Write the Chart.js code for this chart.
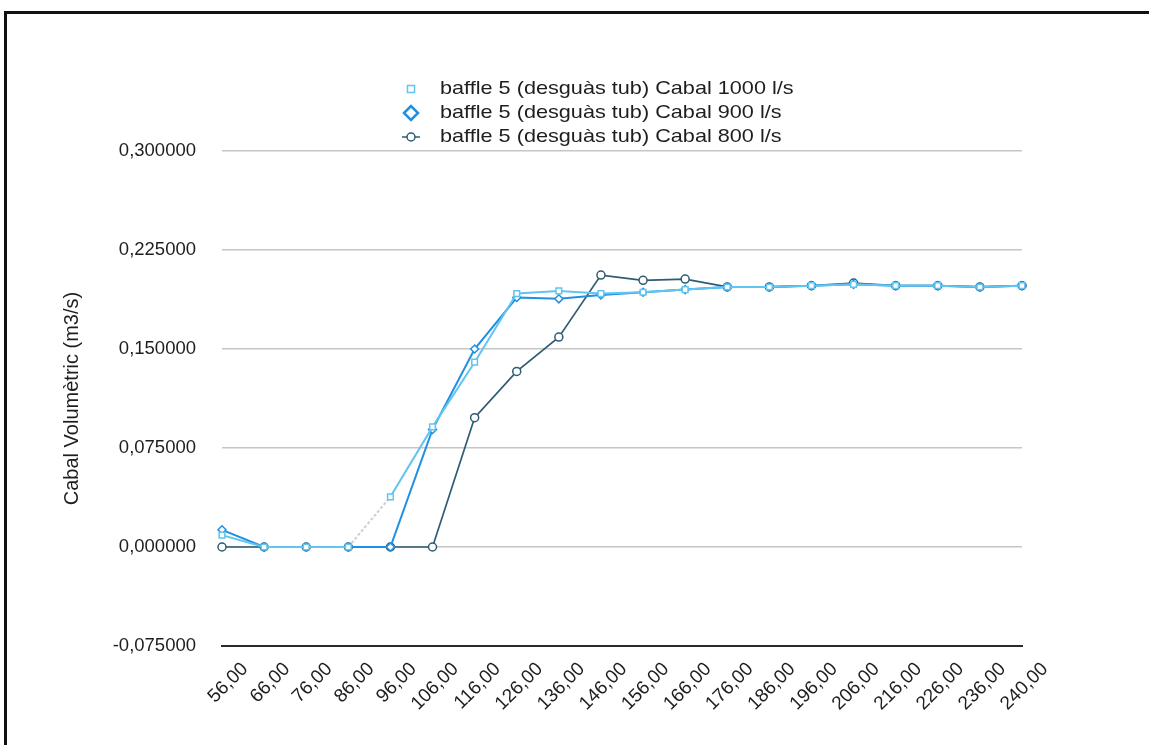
<!DOCTYPE html>
<html>
<head>
<meta charset="utf-8">
<script src="https://cdn.jsdelivr.net/npm/chart.js@4.4.1/dist/chart.umd.min.js"></script>
<style>
  html, body { margin: 0; padding: 0; background: #fff; overflow: hidden; }
  #wrap { position: relative; width: 1149px; height: 745px; }
  #frame { position: absolute; left: 4px; top: 11px; width: 1200px; height: 800px;
           border-left: 3px solid #111; border-top: 3px solid #111; }
  #c { position: absolute; left: 0; top: 0; }
</style>
</head>
<body>
<div id="wrap">
  <div id="frame"></div>
  <canvas id="c" width="1149" height="745"></canvas>
</div>
<script>
// Time stamps (s) along the horizontal axis
const categories = ['56,00', '66,00', '76,00', '86,00', '96,00', '106,00', '116,00', '126,00',
  '136,00', '146,00', '156,00', '166,00', '176,00', '186,00', '196,00', '206,00',
  '216,00', '226,00', '236,00', '240,00'];

// Volumetric flow through baffle 5 (m3/s)
const cabal1000 = [0.009, 0, 0, 0, 0.038, 0.091, 0.140, 0.192, 0.194, 0.192,
  0.193, 0.195, 0.197, 0.197, 0.198, 0.199, 0.198, 0.198, 0.197, 0.198];
const cabal900 = [0.013, 0, 0, 0, 0, 0.089, 0.150, 0.189, 0.188, 0.191,
  0.193, 0.195, 0.197, 0.197, 0.198, 0.199, 0.198, 0.198, 0.197, 0.198];
const cabal800 = [0, 0, 0, 0, 0, 0, 0.098, 0.133, 0.159, 0.206,
  0.202, 0.203, 0.197, 0.197, 0.198, 0.200, 0.198, 0.198, 0.197, 0.198];

const seriesNames = ['baffle 5 (desguàs tub) Cabal 1000 l/s',
  'baffle 5 (desguàs tub) Cabal 900 l/s',
  'baffle 5 (desguàs tub) Cabal 800 l/s'];

const yTicks = [-0.075, 0, 0.075, 0.15, 0.225, 0.3];

const FONT = "'Liberation Sans', Arial, Helvetica, sans-serif";
const TEXT = '#1e1e1e';

function fmtComma(v) {
  if (Math.abs(v) < 1e-9) v = 0;
  return v.toFixed(6).replace('.', ',');
}

// Legend stacked in three rows above the plot
const legendRows = {
  id: 'legendRows',
  afterDraw(chart) {
    const ctx = chart.ctx;
    const iconX = 411, textX = 440, y0 = 89, step = 24;
    chart.data.datasets.forEach((ds, i) => {
      const y = y0 + i * step;
      ctx.save();
      ctx.strokeStyle = ds.borderColor;
      ctx.fillStyle = '#ffffff';
      if (ds.legendLine) {
        ctx.lineWidth = 1.5;
        ctx.beginPath();
        ctx.moveTo(iconX - 9, y);
        ctx.lineTo(iconX + 9, y);
        ctx.stroke();
      }
      ctx.lineWidth = ds.legendBorder;
      Chart.helpers.drawPoint(ctx, {
        pointStyle: ds.pointStyle, radius: ds.legendRadius, rotation: 0,
        borderWidth: ds.legendBorder
      }, iconX, y);
      ctx.fillStyle = TEXT;
      ctx.font = '19px ' + FONT;
      ctx.textBaseline = 'middle';
      ctx.textAlign = 'left';
      ctx.translate(textX, y);
      ctx.scale(1.14, 1);
      ctx.fillText(ds.label, 0, 0);
      ctx.restore();
    });
  }
};

const pointCommon = { pointBackgroundColor: '#ffffff', pointRadius: 4, pointBorderWidth: 1.5,
  borderWidth: 2, tension: 0, fill: false };

new Chart(document.getElementById('c'), {
  type: 'line',
  data: {
    labels: categories,
    datasets: [
      Object.assign({
        label: seriesNames[0], data: cabal1000,
        borderColor: '#62c4f0', pointBorderColor: '#62c4f0', pointStyle: 'rect',
        legendRadius: 5, legendBorder: 1.5,
        segment: {
          borderColor: c => c.p0DataIndex === 3 ? '#cfcfcf' : undefined,
          borderDash: c => c.p0DataIndex === 3 ? [3, 2] : undefined
        }
      }, pointCommon),
      Object.assign({
        label: seriesNames[1], data: cabal900,
        borderColor: '#1f90e2', pointBorderColor: '#1f90e2', pointStyle: 'rectRot',
        legendRadius: 7, legendBorder: 2.5
      }, pointCommon),
      Object.assign({
        label: seriesNames[2], data: cabal800,
        borderColor: '#2d5c74', pointBorderColor: '#2d5c74', pointStyle: 'circle',
        borderWidth: 1.7, legendRadius: 4, legendBorder: 1.5, legendLine: true
      }, pointCommon, { borderWidth: 1.7 })
    ]
  },
  options: {
    responsive: false,
    animation: false,
    devicePixelRatio: 1,
    layout: { padding: { left: 56, right: 127, top: 151, bottom: 0 } },
    plugins: { legend: { display: false }, tooltip: { enabled: false } },
    scales: {
      x: {
        type: 'category',
        offset: false,
        grid: { display: false },
        border: { display: true, color: '#2a2a2a', width: 2 },
        ticks: {
          autoSkip: false, minRotation: 45, maxRotation: 45,
          labelOffset: 23, padding: 4,
          font: { family: FONT, size: 19 }, color: TEXT
        },
        afterFit: s => { s.height = 99; }
      },
      y: {
        min: -0.075, max: 0.3,
        afterBuildTicks: s => { s.ticks = yTicks.map(v => ({ value: v })); },
        grid: {
          drawTicks: false, lineWidth: 1.5,
          color: c => (c.tick && Math.abs(c.tick.value + 0.075) < 1e-9) ? 'rgba(0,0,0,0)' : '#c6c6c6'
        },
        border: { display: false },
        ticks: {
          callback: v => fmtComma(v), padding: 26,
          font: { family: FONT, size: 18.5 }, color: TEXT
        },
        title: {
          display: true, text: 'Cabal Volumètric (m3/s)',
          font: { family: FONT, size: 20 }, color: TEXT
        },
        afterFit: s => { s.width = 166; }
      }
    }
  },
  plugins: [legendRows]
});
</script>
</body>
</html>
